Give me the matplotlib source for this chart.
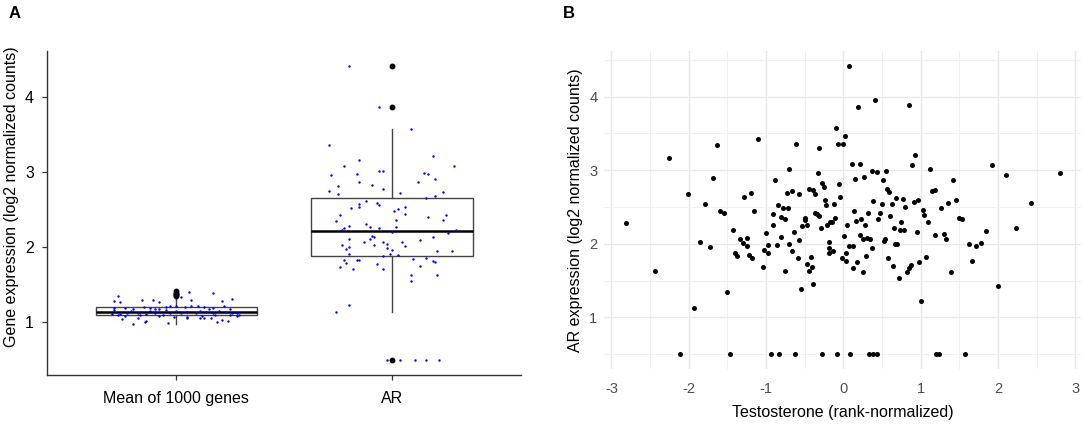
import matplotlib
matplotlib.use("Agg")
import matplotlib.pyplot as plt
from matplotlib.ticker import MultipleLocator

plt.rcParams["font.family"] = ["Liberation Sans", "DejaVu Sans"]

# ---- panel A data ----
groups = ["Mean of 1000 genes", "AR"]

mean_vals = [1.35, 1.28, 1.26, 1.29, 1.29, 1.27, 1.40, 1.33, 1.38, 1.28, 1.31, 1.29,
             1.19, 1.19, 1.18, 1.20, 1.19, 1.17, 1.18, 1.20, 1.21, 1.21, 1.20, 1.21,
             1.21, 1.20, 1.19, 1.21, 1.18, 1.11, 1.09, 1.12, 1.12, 1.11, 1.12, 1.09,
             1.12, 1.15, 1.12, 1.14, 1.12, 1.15, 1.14, 1.12, 1.15, 1.14, 1.12, 1.09,
             1.15, 1.15, 1.08, 1.09, 1.08, 1.07, 1.07, 1.08, 1.09, 1.09, 1.04, 1.06,
             1.01, 1.005, 0.98, 0.99, 1.05, 1.06, 1.05, 1.00, 1.03, 1.01, 1.06, 1.12,
             1.08, 1.14, 1.18, 1.16, 1.16, 1.11]
mean_jitter = [-0.27, -0.29, -0.26, -0.16, -0.11, -0.08, 0.06, 0.02, 0.17, 0.21, 0.26, 0.07,
               -0.29, -0.24, -0.20, -0.15, -0.12, -0.10, -0.08, -0.05, -0.03, 0.00, 0.04, 0.07,
               0.10, 0.13, 0.17, 0.22, 0.25, -0.30, -0.27, -0.23, -0.18, -0.14, -0.10, -0.06,
               -0.03, 0.00, 0.02, 0.05, 0.09, 0.11, 0.14, 0.17, 0.20, 0.23, 0.26, 0.29,
               -0.21, -0.12, -0.24, -0.17, -0.08, -0.01, 0.05, 0.12, 0.18, 0.25, -0.25, -0.18,
               -0.14, -0.145, -0.20, -0.04, 0.05, 0.11, 0.13, 0.19, 0.21, 0.24, 0.16, 0.28,
               0.28, -0.10, 0.15, -0.05, -0.29, -0.26]

ar_vals = [4.41, 3.86, 3.57, 3.35, 3.16, 3.21, 3.07, 3.07, 3.01, 3.01, 2.95, 2.97, 2.98,
           2.97, 2.91, 2.86, 2.86, 2.81, 2.83, 2.77, 2.75, 2.70, 2.72, 2.73, 2.68, 2.65,
           2.61, 2.59, 2.56, 2.57, 2.53, 2.53, 2.52, 2.48, 2.50, 2.44, 2.42, 2.42, 2.40,
           2.36, 2.35, 2.36, 2.30, 2.27, 2.25, 2.25, 2.28, 2.26, 2.22, 2.20, 2.19, 2.22,
           2.15, 2.13, 2.13, 2.11, 2.10, 2.09, 2.06, 2.06, 2.06, 2.02, 2.04, 2.03, 2.01,
           2.00, 1.97, 1.99, 1.96, 1.95, 1.95, 1.90, 1.90, 1.89, 1.88, 1.82, 1.83, 1.82,
           1.79, 1.84, 1.85, 1.81, 1.80, 1.77, 1.75, 1.73, 1.71, 1.70, 1.63, 1.62, 1.55,
           1.14, 1.23, 0.50, 0.50, 0.50, 0.50, 0.50]
ar_jitter = [-0.20, -0.06, 0.09, -0.29, -0.15, 0.19, -0.22, 0.29, -0.06, -0.04, -0.28, -0.16, 0.15,
             0.17, 0.20, 0.12, -0.15, -0.25, -0.09, -0.04, -0.29, -0.25, 0.04, 0.24, 0.20, 0.16,
             -0.12, -0.07, -0.06, -0.15, -0.15, 0.06, -0.19, 0.01, 0.03, 0.06, -0.24, 0.25, 0.17,
             0.02, -0.26, 0.24, -0.12, -0.10, -0.06, -0.22, -0.20, 0.02, -0.23, 0.00, 0.26, 0.30,
             -0.09, -0.08, 0.19, -0.10, -0.20, 0.13, -0.13, -0.04, 0.05, -0.08, -0.02, -0.23, 0.06,
             -0.20, -0.21, -0.02, 0.00, 0.28, 0.21, -0.20, -0.01, 0.03, -0.04, -0.22, -0.15, -0.16,
             -0.21, 0.10, 0.16, 0.19, 0.20, -0.07, 0.13, -0.24, -0.04, -0.18, 0.09, 0.21, 0.09,
             -0.26, -0.20, -0.02, 0.04, 0.11, 0.16, 0.22]

# box statistics
box_q1 = [1.093, 1.88]
box_med = [1.137, 2.21]
box_q3 = [1.20, 2.65]
box_lo = [0.98, 1.14]
box_hi = [1.31, 3.57]
box_fliers = [[1.34, 1.36, 1.37, 1.39, 1.41], [4.41, 3.86, 0.50]]

# ---- panel B data ----
testosterone = [0.08, 0.41, 0.19, 0.85, -0.09, 0.02, -1.10, -1.63, -0.61, -0.07, -0.01, -0.31,
                -2.25, 0.93, 0.11, 0.22, 0.89, 1.92, 0.37, 0.44, 0.55, 1.12, 2.10, 2.80,
                -0.70, -0.33, -1.68, 0.27, 0.15, -0.88, 0.51, 1.42, -0.27, -0.06, -0.25, 0.57,
                0.59, 1.19, 1.15, -0.44, -0.39, -0.66, -0.73, -0.57, -1.20, -2.01, -1.28, -0.36,
                -0.04, 0.77, 0.68, 0.39, -0.24, 1.46, 0.97, 0.91, 2.43, 1.35, 0.63, 0.50,
                -0.12, -1.79, -0.23, -0.85, 0.80, -0.78, -0.72, 1.26, 1.03, -1.15, -1.59, -1.54,
                -0.37, -0.34, 0.14, 0.47, 0.32, -0.31, 1.05, 0.61, 0.23, 0.17, -0.91, -0.11,
                -0.14, -0.50, -0.50, -0.80, -0.75, 0.45, 1.50, 1.54, 0.75, 1.10, 0.05, 0.28,
                -0.47, -0.53, -0.21, -0.17, -0.91, 0.65, 0.73, 0.79, 2.24, -0.29, -2.81, -1.43,
                -0.64, 0.95, 1.85, 0.21, 1.18, 1.30, -1.00, 0.31, 0.35, 0.25, 1.33, 0.01,
                -0.81, -1.25, -1.33, 0.54, 0.52, -0.57, -0.86, -0.70, -1.30, -0.18, -1.86, 0.67,
                0.70, 1.62, 1.78, 1.72, 0.08, 0.13, -1.25, -0.97, -1.73, -1.02, -0.66, -0.19,
                0.37, -1.40, -1.37, -1.22, -0.98, -0.18, -0.13, 0.03, -1.18, 0.30, 0.58, 1.07,
                -0.59, -0.02, -0.42, 0.18, 0.03, 1.67, 0.98, -0.47, -0.40, 0.64, -1.04, 0.12,
                0.85, 0.88, 0.82, -0.45, -0.76, -2.43, 0.26, 1.39, 0.72, -0.39, -0.55, -1.50,
                2.00, 1.01, -1.93,
                -2.11, -1.47, -0.94, -0.83, -0.62, -0.28, -0.08, 0.09, 0.33, 0.38, 0.43, 1.20,
                1.24, 1.58]
ar_expr = [4.42, 3.95, 3.86, 3.88, 3.57, 3.46, 3.42, 3.34, 3.35, 3.35, 3.35, 3.30,
           3.16, 3.21, 3.08, 3.09, 3.07, 3.07, 2.99, 2.97, 2.99, 3.01, 2.94, 2.96,
           3.01, 2.96, 2.89, 2.91, 2.88, 2.86, 2.86, 2.86, 2.83, 2.81, 2.77, 2.74,
           2.70, 2.73, 2.72, 2.74, 2.73, 2.72, 2.69, 2.68, 2.69, 2.68, 2.64, 2.67,
           2.64, 2.61, 2.62, 2.58, 2.60, 2.60, 2.60, 2.57, 2.56, 2.55, 2.54, 2.54,
           2.54, 2.54, 2.53, 2.52, 2.50, 2.49, 2.49, 2.48, 2.46, 2.45, 2.44, 2.42,
           2.42, 2.40, 2.44, 2.42, 2.42, 2.38, 2.39, 2.38, 2.34, 2.31, 2.40, 2.35,
           2.30, 2.35, 2.32, 2.36, 2.33, 2.33, 2.35, 2.34, 2.30, 2.29, 2.25, 2.25,
           2.26, 2.24, 2.25, 2.30, 2.26, 2.21, 2.19, 2.19, 2.21, 2.22, 2.28, 2.18,
           2.16, 2.16, 2.17, 2.12, 2.12, 2.13, 2.14, 2.08, 2.07, 2.06, 2.06, 2.11,
           2.09, 2.08, 2.07, 2.06, 2.04, 2.05, 1.98, 2.00, 2.01, 2.03, 2.02, 2.00,
           1.99, 1.99, 2.01, 1.97, 1.97, 1.97, 1.97, 1.98, 1.95, 1.92, 1.90, 1.94,
           1.94, 1.88, 1.83, 1.84, 1.87, 1.88, 1.90, 1.88, 1.80, 1.83, 1.80, 1.82,
           1.80, 1.81, 1.82, 1.75, 1.76, 1.76, 1.75, 1.73, 1.69, 1.70, 1.68, 1.67,
           1.67, 1.71, 1.61, 1.63, 1.63, 1.63, 1.61, 1.62, 1.54, 1.45, 1.38, 1.35,
           1.43, 1.22, 1.13,
           0.50, 0.50, 0.50, 0.50, 0.50, 0.50, 0.50, 0.50, 0.50, 0.50, 0.50, 0.50,
           0.50, 0.50]

fig = plt.figure(figsize=(10.84, 4.25), dpi=100)

# ---------------- Panel A ----------------
axA = fig.add_axes([0.0434, 0.1176, 0.4372, 0.763])
positions = [1, 2]
stats = []
for i in range(2):
    stats.append(dict(med=box_med[i], q1=box_q1[i], q3=box_q3[i],
                      whislo=box_lo[i], whishi=box_hi[i], fliers=box_fliers[i]))
axA.bxp(stats, positions=positions, widths=0.75, showcaps=False, patch_artist=True,
        boxprops=dict(facecolor="white", edgecolor="#444444", linewidth=1.0),
        whiskerprops=dict(color="#444444", linewidth=1.0),
        medianprops=dict(color="black", linewidth=1.8),
        flierprops=dict(marker="o", markerfacecolor="black", markeredgecolor="black",
                        markersize=3.2, linestyle="none"),
        zorder=2)

axA.scatter([positions[0] + j for j in mean_jitter], mean_vals, s=3, color="#0000ff",
            linewidths=0, zorder=3)
axA.scatter([positions[1] + j for j in ar_jitter], ar_vals, s=3, color="#0000ff",
            linewidths=0, zorder=3)

axA.set_xlim(0.4, 2.6)
axA.set_ylim(0.295, 4.61)
axA.set_xticks(positions)
axA.set_xticklabels(groups)
axA.set_yticks([1, 2, 3, 4])
axA.spines["top"].set_visible(False)
axA.spines["right"].set_visible(False)
for s in ("left", "bottom"):
    axA.spines[s].set_color("#333333")
    axA.spines[s].set_linewidth(1.0)
axA.tick_params(axis="both", length=3.5, width=0.9, color="#333333", labelsize=11.5)
axA.tick_params(axis="x", pad=8)
axA.tick_params(axis="y", pad=6)
axA.set_ylabel("Gene expression (log2 normalized counts)", fontsize=11.5)
axA.yaxis.set_label_coords(-0.059, 0.549)

fig.text(0.008, 0.968, "A", fontsize=12, fontweight="bold", va="center", ha="left")

# ---------------- Panel B ----------------
axB = fig.add_axes([0.5576, 0.1322, 0.440, 0.748])
axB.scatter(testosterone, ar_expr, s=13, color="black", linewidths=0, zorder=3)
axB.set_xlim(-3.09, 3.08)
axB.set_ylim(0.30, 4.62)
axB.xaxis.set_major_locator(MultipleLocator(1))
axB.yaxis.set_major_locator(MultipleLocator(1))
axB.xaxis.set_minor_locator(MultipleLocator(0.5))
axB.yaxis.set_minor_locator(MultipleLocator(0.5))
axB.grid(which="major", color="#e8e8e8", linewidth=1.0)
axB.grid(which="minor", color="#f0f0f0", linewidth=0.8)
axB.set_axisbelow(True)
for s in axB.spines.values():
    s.set_visible(False)
axB.tick_params(which="both", length=0, labelsize=10.5, labelcolor="#4d4d4d")
axB.tick_params(axis="x", pad=9.5)
axB.tick_params(axis="y", pad=5)
axB.set_xticks([-3, -2, -1, 0, 1, 2, 3])
axB.set_xticklabels(["-3", "-2", "-1", "0", "1", "2", "3"])
axB.set_yticks([1, 2, 3, 4])
axB.set_xlabel("Testosterone (rank-normalized)", fontsize=11.5)
axB.set_ylabel("AR expression (log2 normalized counts)", fontsize=11.5)
axB.yaxis.set_label_coords(-0.045, 0.50)
axB.xaxis.set_label_coords(0.5, -0.113)

fig.text(0.519, 0.968, "B", fontsize=12, fontweight="bold", va="center", ha="left")

fig.savefig("out.png", dpi=100)
